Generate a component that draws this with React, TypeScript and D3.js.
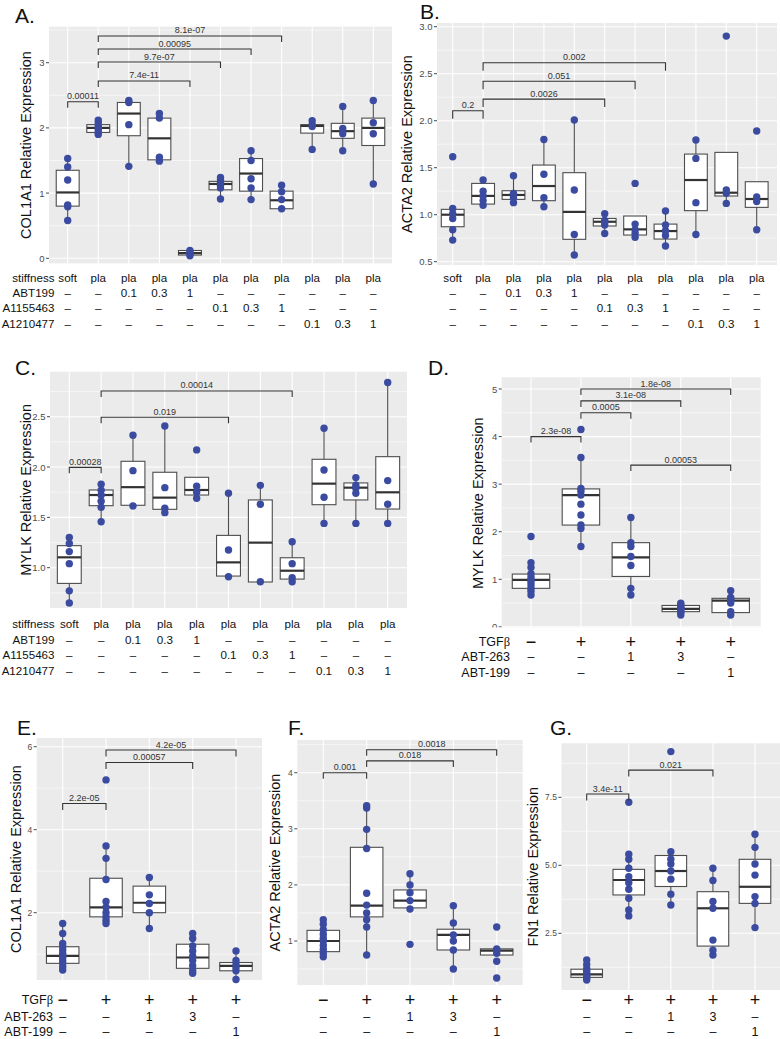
import React from "react";
import * as d3 from "d3";

const FONT = "'Liberation Sans', Arial, Helvetica, sans-serif";
const PT = "#3B4BA0";

// ---------- table rows ----------
const stiffRowNames = ["stiffness", "ABT199", "A1155463", "A1210477"];
const stiffnessVals = ["soft", "pla", "pla", "pla", "pla", "pla", "pla", "pla", "pla", "pla", "pla"];
const abt199Vals = ["–", "–", "0.1", "0.3", "1", "–", "–", "–", "–", "–", "–"];
const a1155463Vals = ["–", "–", "–", "–", "–", "0.1", "0.3", "1", "–", "–", "–"];
const a1210477Vals = ["–", "–", "–", "–", "–", "–", "–", "–", "0.1", "0.3", "1"];
const tgfRowNames = ["TGFβ", "ABT-263", "ABT-199"];
const tgfVals = ["−", "+", "+", "+", "+"];
const abt263Vals = ["–", "–", "1", "3", "–"];
const abt199bVals = ["–", "–", "–", "–", "1"];

// ---------- Panel A: COL1A1 ----------
const aMed = [1.01, 2.0, 2.22, 1.84, 0.08, 1.14, 1.3, 0.89, 2.03, 1.95, 2.0];
const aQ1 = [0.8, 1.93, 1.88, 1.51, 0.05, 1.05, 1.03, 0.76, 1.92, 1.84, 1.73];
const aQ3 = [1.35, 2.05, 2.39, 2.15, 0.12, 1.18, 1.53, 1.03, 2.05, 2.07, 2.15];
const aLo = [0.58, 1.9, 1.41, 1.49, 0.04, 0.91, 0.9, 0.76, 1.67, 1.65, 1.14];
const aHi = [1.53, 2.12, 2.42, 2.22, 0.13, 1.24, 1.65, 1.12, 2.11, 2.33, 2.42];
const aPts = [
  [0.58, 0.79, 0.82, 1.2, 1.4, 1.53],
  [1.9, 1.93, 1.97, 2.0, 2.03, 2.08, 2.12],
  [1.41, 2.05, 2.39, 2.42],
  [1.49, 1.55, 2.15, 2.22],
  [0.04, 0.07, 0.09, 0.12],
  [0.91, 1.08, 1.12, 1.16, 1.2, 1.24],
  [0.9, 1.08, 1.22, 1.5, 1.65],
  [0.76, 0.9, 1.02, 1.12],
  [1.67, 2.02, 2.05, 2.11],
  [1.65, 1.91, 1.99, 2.33],
  [1.14, 1.91, 2.08, 2.42],
];
const aBrackets: [number, number, number, string][] = [
  [0, 1, 2.4, "0.00011"],
  [1, 4, 2.72, "7.4e-11"],
  [1, 5, 3.01, "9.7e-07"],
  [1, 6, 3.21, "0.00095"],
  [1, 7, 3.41, "8.1e-07"],
];

// ---------- Panel B: ACTA2 ----------
const bMed = [1.0, 1.2, 1.21, 1.305, 1.03, 0.925, 0.844, 0.826, 1.369, 1.234, 1.167];
const bQ1 = [0.872, 1.113, 1.163, 1.149, 0.738, 0.88, 0.784, 0.741, 1.043, 1.199, 1.078];
const bQ3 = [1.057, 1.333, 1.255, 1.528, 1.447, 0.96, 0.986, 0.9, 1.645, 1.663, 1.351];
const bLo = [0.73, 1.1, 1.128, 1.085, 0.571, 0.8, 0.76, 0.667, 0.79, 1.12, 0.84];
const bHi = [1.067, 1.37, 1.415, 1.8, 2.007, 1.01, 0.986, 1.04, 1.794, 1.663, 1.351];
const bPts = [
  [0.73, 0.84, 0.96, 1.01, 1.067, 1.617],
  [1.1, 1.15, 1.2, 1.25, 1.37],
  [1.128, 1.18, 1.227, 1.415],
  [1.085, 1.18, 1.43, 1.8],
  [0.571, 0.79, 1.262, 2.007],
  [0.8, 0.89, 0.92, 0.94, 1.01],
  [0.76, 0.8, 0.84, 0.9, 1.333],
  [0.667, 0.78, 0.83, 0.89, 1.04],
  [0.79, 1.128, 1.599, 1.794],
  [1.12, 1.227, 1.262, 2.9],
  [0.84, 1.14, 1.19, 1.89],
];
const bBrackets: [number, number, number, string][] = [
  [0, 1, 2.106, "0.2"],
  [1, 5, 2.23, "0.0026"],
  [1, 6, 2.42, "0.051"],
  [1, 7, 2.617, "0.002"],
];

// ---------- Panel C: MYLK ----------
const cMed = [1.103, 1.722, 1.8, 1.696, 1.772, 1.053, 1.249, 0.97, 1.835, 1.795, 1.749];
const cQ1 = [0.844, 1.616, 1.62, 1.58, 1.722, 0.917, 0.858, 0.887, 1.626, 1.673, 1.583];
const cQ3 = [1.219, 1.772, 2.057, 1.948, 1.898, 1.321, 1.673, 1.099, 2.077, 1.842, 2.103];
const cLo = [0.65, 1.457, 1.613, 1.547, 1.69, 0.91, 0.86, 0.86, 1.44, 1.44, 1.44];
const cHi = [1.308, 1.83, 2.315, 2.408, 1.898, 1.739, 1.818, 1.258, 2.385, 1.895, 2.84];
const cPts = [
  [0.65, 0.77, 1.04, 1.16, 1.24, 1.3],
  [1.457, 1.6, 1.66, 1.72, 1.77, 1.83],
  [1.613, 1.964, 2.315],
  [1.547, 1.59, 1.795, 2.408],
  [1.69, 1.75, 1.81, 2.17],
  [0.91, 1.176, 1.739],
  [0.86, 1.63, 1.818],
  [0.86, 0.9, 1.04, 1.258],
  [1.44, 1.7, 1.971, 2.385],
  [1.44, 1.74, 1.79, 1.82, 1.895],
  [1.44, 1.63, 1.865, 2.84],
];
const cBrackets: [number, number, number, string][] = [
  [0, 1, 1.997, "0.00028"],
  [1, 5, 2.494, "0.019"],
  [1, 7, 2.756, "0.00014"],
];

// ---------- Panel D: MYLK (TGFβ) ----------
const dMed = [0.99, 2.77, 1.46, 0.38, 0.55];
const dQ1 = [0.81, 2.14, 1.06, 0.32, 0.3];
const dQ3 = [1.11, 2.9, 1.77, 0.45, 0.6];
const dLo = [0.67, 1.69, 0.67, 0.25, 0.25];
const dHi = [1.35, 3.56, 2.3, 0.5, 0.76];
const dPts = [
  [0.67, 0.75, 0.81, 0.88, 0.95, 0.99, 1.05, 1.12, 1.25, 1.35, 1.9],
  [1.69, 2.07, 2.14, 2.35, 2.58, 2.77, 2.85, 2.91, 3.56, 4.15],
  [0.67, 0.81, 1.29, 1.48, 1.69, 1.77, 2.3],
  [0.25, 0.3, 0.33, 0.36, 0.38, 0.4, 0.43, 0.47, 0.5],
  [0.25, 0.32, 0.5, 0.55, 0.58, 0.62, 0.76],
];
const dBrackets: [number, number, number, string][] = [
  [0, 1, 4.0, "2.3e-08"],
  [1, 2, 4.5, "0.0005"],
  [1, 3, 4.75, "3.1e-08"],
  [1, 4, 5.0, "1.8e-08"],
  [2, 4, 3.4, "0.00053"],
];

// ---------- Panel E: COL1A1 ----------
const eMed = [0.96, 2.13, 2.24, 0.92, 0.72];
const eQ1 = [0.78, 1.9, 2.0, 0.66, 0.6];
const eQ3 = [1.18, 2.83, 2.64, 1.24, 0.8];
const eLo = [0.62, 1.74, 1.62, 0.54, 0.39];
const eHi = [1.74, 3.61, 2.85, 1.5, 1.08];
const ePts = [
  [0.62, 0.7, 0.78, 0.85, 0.92, 0.96, 1.02, 1.1, 1.18, 1.26, 1.5, 1.74],
  [1.74, 1.82, 1.9, 2.0, 2.13, 2.27, 2.8, 3.31, 3.61, 5.2],
  [1.62, 2.0, 2.22, 2.43, 2.85],
  [0.54, 0.6, 0.72, 0.85, 0.95, 1.08, 1.2, 1.38, 1.5],
  [0.39, 0.6, 0.68, 0.75, 0.85, 1.08],
];
const eBrackets: [number, number, number, string][] = [
  [0, 1, 4.63, "2.2e-05"],
  [1, 3, 5.62, "0.00057"],
  [1, 4, 5.92, "4.2e-05"],
];

// ---------- Panel F: ACTA2 ----------
const fMed = [1.0, 1.63, 1.72, 1.11, 0.83];
const fQ1 = [0.81, 1.43, 1.59, 0.84, 0.75];
const fQ3 = [1.19, 2.67, 1.91, 1.21, 0.86];
const fLo = [0.72, 0.75, 1.57, 0.5, 0.75];
const fHi = [1.38, 3.41, 2.2, 1.63, 0.86];
const fPts = [
  [0.72, 0.78, 0.85, 0.92, 1.0, 1.05, 1.12, 1.2, 1.3, 1.38],
  [0.75, 1.25, 1.38, 1.5, 1.64, 1.85, 2.65, 2.99, 3.37, 3.41],
  [0.94, 1.57, 1.72, 1.86, 2.0, 2.2],
  [0.5, 0.84, 1.0, 1.11, 1.32, 1.63],
  [0.34, 0.64, 0.78, 0.83, 0.86, 1.25],
];
const fBrackets: [number, number, number, string][] = [
  [0, 1, 4.0, "0.001"],
  [1, 3, 4.21, "0.018"],
  [1, 4, 4.41, "0.0018"],
];

// ---------- Panel G: FN1 ----------
const gMed = [0.99, 4.46, 4.79, 3.42, 4.21];
const gQ1 = [0.88, 3.91, 4.22, 2.03, 3.6];
const gQ3 = [1.18, 4.85, 5.36, 4.03, 5.22];
const gLo = [0.78, 3.14, 3.54, 1.7, 2.71];
const gHi = [1.52, 5.41, 5.5, 4.89, 6.14];
const gPts = [
  [0.78, 0.85, 0.92, 0.99, 1.05, 1.12, 1.2, 1.35, 1.52],
  [3.14, 3.36, 3.79, 4.12, 4.36, 4.58, 4.89, 5.22, 5.41, 7.32],
  [3.54, 3.94, 4.49, 4.79, 5.05, 5.22, 5.5, 9.18],
  [1.7, 1.88, 2.25, 3.42, 3.67, 4.44, 4.89],
  [2.71, 3.6, 3.85, 4.64, 5.05, 5.66, 6.14],
];
const gBrackets: [number, number, number, string][] = [
  [0, 1, 7.62, "3.4e-11"],
  [1, 3, 8.5, "0.021"],
];

type Cfg = {
  letter: string;
  letterPos: [number, number];
  bg: [number, number, number, number];
  centers: [number, number];
  yAnchor: [number, number, number, number];
  ticks: number[];
  fmt: (v: number) => string;
  tickFont: number;
  yTitle: string;
  yTitleX: number;
  q1: number[];
  med: number[];
  q3: number[];
  lo: number[];
  hi: number[];
  pts: number[][];
  brackets: [number, number, number, string][];
  tip: number;
  rowsY: number[];
  rowNames: string[] | null;
  rowNameX: number;
  rowFont: number;
  rows: string[][];
  bigFirst: boolean;
  cover?: [number, number, number, number];
};

function Panel({ c }: { c: Cfg }) {
  const n = c.med.length;
  const x = d3.scalePoint<number>().domain(d3.range(n)).range(c.centers);
  const step = x.step();
  const bw = step * 0.75;
  const y = d3
    .scaleLinear()
    .domain([c.yAnchor[0], c.yAnchor[2]])
    .range([c.yAnchor[1], c.yAnchor[3]]);
  const [bx0, bx1, by0, by1] = c.bg;
  const vTop = y.invert(by0);
  const vBot = y.invert(by1);
  const inR = (v: number) => v >= vBot && v <= vTop;
  const st = c.ticks[1] - c.ticks[0];
  const minor = [c.ticks[0] - st / 2, ...c.ticks.map((t) => t + st / 2)].filter(inR);
  return (
    <g>
      <rect x={bx0} y={by0} width={bx1 - bx0} height={by1 - by0} fill="#EBEBEB" />
      {minor.map((v, i) => (
        <line key={"mi" + i} x1={bx0} x2={bx1} y1={y(v)} y2={y(v)} stroke="#fff" strokeWidth={0.55} />
      ))}
      {c.ticks.filter(inR).map((v, i) => (
        <line key={"ma" + i} x1={bx0} x2={bx1} y1={y(v)} y2={y(v)} stroke="#fff" strokeWidth={1.1} />
      ))}
      {d3.range(n).map((i) => (
        <line key={"vx" + i} x1={x(i)} x2={x(i)} y1={by0} y2={by1} stroke="#fff" strokeWidth={1.1} />
      ))}
      {c.ticks.map((v, i) => (
        <g key={"t" + i}>
          <line x1={bx0 - 3} x2={bx0} y1={y(v)} y2={y(v)} stroke="#333" strokeWidth={0.9} />
          <text
            x={bx0 - 4.5}
            y={y(v)}
            textAnchor="end"
            dominantBaseline="central"
            fontSize={c.tickFont}
            fill="#4D4D4D"
          >
            {c.fmt(v)}
          </text>
        </g>
      ))}
      <text
        transform={`translate(${c.yTitleX},${(by0 + by1) / 2}) rotate(-90)`}
        textAnchor="middle"
        dominantBaseline="central"
        fontSize={14.5}
        fill="#111"
      >
        {c.yTitle}
      </text>
      {d3.range(n).map((i) => {
        const cx = x(i) as number;
        return (
          <g key={"b" + i}>
            <line x1={cx} x2={cx} y1={y(c.q3[i])} y2={y(c.hi[i])} stroke="#4D4D4D" strokeWidth={1.1} />
            <line x1={cx} x2={cx} y1={y(c.q1[i])} y2={y(c.lo[i])} stroke="#4D4D4D" strokeWidth={1.1} />
            <rect
              x={cx - bw / 2}
              y={y(c.q3[i])}
              width={bw}
              height={Math.max(0.5, y(c.q1[i]) - y(c.q3[i]))}
              fill="#fff"
              stroke="#4D4D4D"
              strokeWidth={1.1}
            />
            <line
              x1={cx - bw / 2}
              x2={cx + bw / 2}
              y1={y(c.med[i])}
              y2={y(c.med[i])}
              stroke="#333"
              strokeWidth={2.2}
            />
          </g>
        );
      })}
      {c.pts.map((arr, i) =>
        arr.map((v, j) => <circle key={"p" + i + "_" + j} cx={x(i)} cy={y(v)} r={3.7} fill={PT} />)
      )}
      {c.brackets.map(([a, b, v, lab], i) => {
        const xa = x(a) as number;
        const xb = x(b) as number;
        const yy = y(v);
        return (
          <g key={"br" + i}>
            <path
              d={`M${xa},${yy + c.tip}V${yy}H${xb}V${yy + c.tip}`}
              fill="none"
              stroke="#333"
              strokeWidth={1.1}
            />
            <text x={(xa + xb) / 2} y={yy - 2.5} textAnchor="middle" fontSize={9} fill="#333">
              {lab}
            </text>
          </g>
        );
      })}
      <text x={c.letterPos[0]} y={c.letterPos[1]} fontSize={21} fill="#111">
        {c.letter}
      </text>
      {c.cover && (
        <rect x={c.cover[0]} y={c.cover[1]} width={c.cover[2]} height={c.cover[3]} fill="#fff" />
      )}
      {c.rows.map((row, r) =>
        row.map((t, i) => {
          const big = c.bigFirst && r === 0;
          return (
            <text
              key={"r" + r + "_" + i}
              x={x(i)}
              y={c.rowsY[r]}
              textAnchor="middle"
              dominantBaseline="central"
              fontSize={big ? 18 : c.rowFont}
              fill="#111"
            >
              {t}
            </text>
          );
        })
      )}
      {c.rowNames &&
        c.rowNames.map((nm, r) => (
          <text
            key={"rn" + r}
            x={c.rowNameX}
            y={c.rowsY[r]}
            textAnchor="end"
            dominantBaseline="central"
            fontSize={c.rowFont}
            fill="#111"
          >
            {nm === "TGFβ" ? (
              <>
                TGF<tspan fontFamily="'Liberation Serif', 'DejaVu Serif', serif">β</tspan>
              </>
            ) : (
              nm
            )}
          </text>
        ))}
    </g>
  );
}

const f1 = (v: number) => v.toFixed(1);
const f0 = (v: number) => String(v);

const stiffRows = [stiffnessVals, abt199Vals, a1155463Vals, a1210477Vals];
const tgfRows = [tgfVals, abt263Vals, abt199bVals];

const panels: Cfg[] = [
  {
    letter: "A.", letterPos: [15, 23], bg: [49, 392, 26.7, 263.3], centers: [67.7, 373.3],
    yAnchor: [0, 258.3, 3, 62.7], ticks: [0, 1, 2, 3], fmt: f0, tickFont: 9.5,
    yTitle: "COL1A1 Relative Expression", yTitleX: 25.5,
    q1: aQ1, med: aMed, q3: aQ3, lo: aLo, hi: aHi, pts: aPts, brackets: aBrackets, tip: 6,
    rowsY: [277, 292.3, 307.6, 323], rowNames: stiffRowNames, rowNameX: 54.5, rowFont: 11.6,
    rows: stiffRows, bigFirst: false,
  },
  {
    letter: "B.", letterPos: [420, 19], bg: [437, 777, 23, 265], centers: [452.7, 756.7],
    yAnchor: [0.5, 261.7, 3.0, 26.7], ticks: [0.5, 1, 1.5, 2, 2.5, 3], fmt: f1, tickFont: 9.5,
    yTitle: "ACTA2 Relative Expression", yTitleX: 407,
    q1: bQ1, med: bMed, q3: bQ3, lo: bLo, hi: bHi, pts: bPts, brackets: bBrackets, tip: 8,
    rowsY: [277, 292.3, 307.6, 323], rowNames: null, rowNameX: 0, rowFont: 11.6,
    rows: stiffRows, bigFirst: false,
  },
  {
    letter: "C.", letterPos: [15, 375], bg: [50, 407, 371.7, 608], centers: [69.3, 387.7],
    yAnchor: [1.0, 567.7, 2.5, 416.7], ticks: [1, 1.5, 2, 2.5], fmt: f1, tickFont: 9.5,
    yTitle: "MYLK Relative Expression", yTitleX: 25.5,
    q1: cQ1, med: cMed, q3: cQ3, lo: cLo, hi: cHi, pts: cPts, brackets: cBrackets, tip: 6,
    rowsY: [623.5, 639, 654.5, 670], rowNames: stiffRowNames, rowNameX: 54.5, rowFont: 11.6,
    rows: stiffRows, bigFirst: false,
  },
  {
    letter: "D.", letterPos: [428, 375], bg: [501.7, 760.7, 377.3, 629], centers: [531, 730.7],
    yAnchor: [5, 389, 1, 579.3], ticks: [0, 1, 2, 3, 4, 5], fmt: f0, tickFont: 9.5,
    yTitle: "MYLK Relative Expression", yTitleX: 478,
    q1: dQ1, med: dMed, q3: dQ3, lo: dLo, hi: dHi, pts: dPts, brackets: dBrackets, tip: 6,
    rowsY: [641.7, 657, 673], rowNames: tgfRowNames, rowNameX: 510, rowFont: 12.5,
    rows: tgfRows, bigFirst: true, cover: [440, 627.5, 340, 55],
  },
  {
    letter: "E.", letterPos: [17, 735], bg: [36.7, 262, 738, 980], centers: [62.7, 236],
    yAnchor: [6, 746.7, 2, 912.7], ticks: [2, 4, 6], fmt: f0, tickFont: 8.5,
    yTitle: "COL1A1 Relative Expression", yTitleX: 16,
    q1: eQ1, med: eMed, q3: eQ3, lo: eLo, hi: eHi, pts: ePts, brackets: eBrackets, tip: 6.5,
    rowsY: [999.5, 1016.7, 1031.7], rowNames: tgfRowNames, rowNameX: 53, rowFont: 12.5,
    rows: tgfRows, bigFirst: true,
  },
  {
    letter: "F.", letterPos: [288, 735], bg: [297.3, 522.7, 740, 985], centers: [323.3, 496.7],
    yAnchor: [4, 772.7, 1, 941], ticks: [1, 2, 3, 4], fmt: f0, tickFont: 8.5,
    yTitle: "ACTA2 Relative Expression", yTitleX: 275,
    q1: fQ1, med: fMed, q3: fQ3, lo: fLo, hi: fHi, pts: fPts, brackets: fBrackets, tip: 6,
    rowsY: [999.5, 1016.7, 1031.7], rowNames: null, rowNameX: 0, rowFont: 12.5,
    rows: tgfRows, bigFirst: true,
  },
  {
    letter: "G.", letterPos: [550, 735], bg: [561.4, 780, 743.3, 990], centers: [586.7, 755],
    yAnchor: [7.5, 797.3, 2.5, 933.3], ticks: [2.5, 5, 7.5], fmt: f1, tickFont: 8.5,
    yTitle: "FN1 Relative Expression", yTitleX: 533,
    q1: gQ1, med: gMed, q3: gQ3, lo: gLo, hi: gHi, pts: gPts, brackets: gBrackets, tip: 6.5,
    rowsY: [999.5, 1016.7, 1031.7], rowNames: null, rowNameX: 0, rowFont: 12.5,
    rows: tgfRows, bigFirst: true,
  },
];

export default function App() {
  return (
    <svg
      width={780}
      height={1039}
      viewBox="0 0 780 1039"
      style={{ position: "absolute", left: 0, top: 0, background: "#fff" }}
      fontFamily={FONT}
    >
      <rect x={0} y={0} width={780} height={1039} fill="#fff" />
      {panels.map((c, i) => (
        <Panel key={i} c={c} />
      ))}
    </svg>
  );
}
